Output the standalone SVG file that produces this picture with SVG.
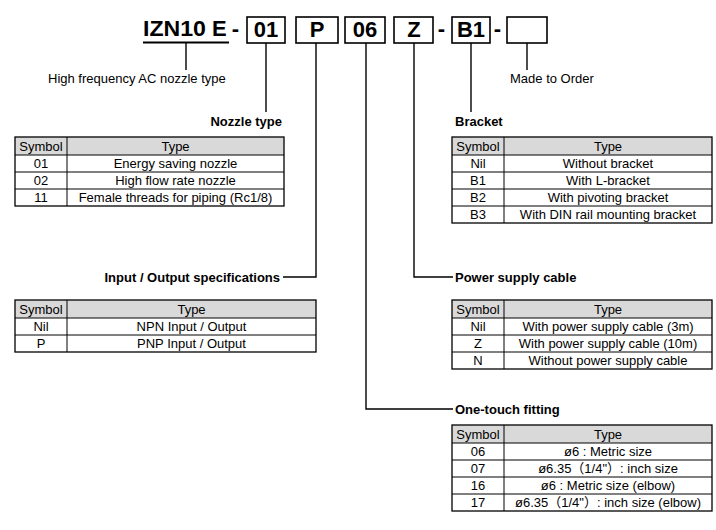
<svg xmlns="http://www.w3.org/2000/svg" width="716" height="530" viewBox="0 0 716 530">
<style>
text{font-family:"Liberation Sans","Noto Sans CJK JP",Arial,sans-serif;fill:#000}
.code{font-size:22px;font-weight:bold}
.box{fill:#fff;stroke:#000;stroke-width:1.6}
.lbl{font-size:13px;font-weight:bold}
.t{font-size:13px;text-anchor:middle}
.n{font-size:13px}
.hd{fill:#d9d9d9}
.grid{fill:none;stroke:#000;stroke-width:1}
.outer{fill:none;stroke:#000;stroke-width:1.3}
.conn{fill:none;stroke:#000;stroke-width:1.4}
</style>
<rect width="716" height="530" fill="#fff"/>

<g id="code">
<text class="code" x="143" y="36" textLength="63" lengthAdjust="spacingAndGlyphs">IZN10</text>
<text class="code" x="212" y="36">E</text>
<line x1="143" y1="42.5" x2="229" y2="42.5" stroke="#000" stroke-width="1.8"/>
<text class="code" x="235.5" y="36" text-anchor="middle">-</text>
<rect class="box" x="247" y="17" width="38" height="26"/>
<text class="code" x="266" y="37" text-anchor="middle">01</text>
<rect class="box" x="296" y="17" width="42" height="26"/>
<text class="code" x="317" y="37" text-anchor="middle">P</text>
<rect class="box" x="345" y="17" width="40" height="26"/>
<text class="code" x="365" y="37" text-anchor="middle">06</text>
<rect class="box" x="394" y="17" width="39" height="26"/>
<text class="code" x="414" y="37" text-anchor="middle">Z</text>
<text class="code" x="441.5" y="36" text-anchor="middle">-</text>
<rect class="box" x="452" y="17" width="38" height="26"/>
<text class="code" x="471" y="37" text-anchor="middle">B1</text>
<text class="code" x="497.5" y="36" text-anchor="middle">-</text>
<rect class="box" x="507" y="17" width="40" height="26"/>
</g>

<g id="connectors">
<line class="conn" x1="186" y1="43" x2="186" y2="70"/>
<line class="conn" x1="527" y1="43" x2="527" y2="70"/>
<line class="conn" x1="266" y1="43" x2="266" y2="112"/>
<line class="conn" x1="471" y1="43" x2="471" y2="112"/>
<polyline class="conn" points="316,43 316,277 283,277"/>
<polyline class="conn" points="414,43 414,277 453,277"/>
<polyline class="conn" points="366,43 366,409 453,409"/>
</g>

<g id="label-ac">
<text class="n" x="48" y="83">High frequency AC nozzle type</text>
</g>
<g id="label-order">
<text class="n" x="510" y="83">Made to Order</text>
</g>

<g id="nozzle-type">
<text class="lbl" x="282" y="126" text-anchor="end">Nozzle type</text>
<rect class="hd" x="15" y="137" width="269" height="18"/>
<rect class="outer" x="15" y="137" width="269" height="69"/>
<path class="grid" d="M15 155H284M15 172H284M15 189H284M67 137V206"/>
<text class="t" x="41" y="150.5">Symbol</text><text class="t" x="175.5" y="150.5">Type</text>
<text class="t" x="41" y="168">01</text><text class="t" x="175.5" y="168">Energy saving nozzle</text>
<text class="t" x="41" y="185">02</text><text class="t" x="175.5" y="185">High flow rate nozzle</text>
<text class="t" x="41" y="202">11</text><text class="t" x="175.5" y="202">Female threads for piping (Rc1/8)</text>
</g>

<g id="bracket">
<text class="lbl" x="455" y="126">Bracket</text>
<rect class="hd" x="452" y="137" width="260" height="18"/>
<rect class="outer" x="452" y="137" width="260" height="86"/>
<path class="grid" d="M452 155H712M452 172H712M452 189H712M452 206H712M504 137V223"/>
<text class="t" x="478" y="150.5">Symbol</text><text class="t" x="608" y="150.5">Type</text>
<text class="t" x="478" y="168">Nil</text><text class="t" x="608" y="168">Without bracket</text>
<text class="t" x="478" y="185">B1</text><text class="t" x="608" y="185">With L-bracket</text>
<text class="t" x="478" y="202">B2</text><text class="t" x="608" y="202">With pivoting bracket</text>
<text class="t" x="478" y="219">B3</text><text class="t" x="608" y="219">With DIN rail mounting bracket</text>
</g>

<g id="io-spec">
<text class="lbl" x="280" y="281.5" text-anchor="end">Input / Output specifications</text>
<rect class="hd" x="15" y="300" width="301" height="18"/>
<rect class="outer" x="15" y="300" width="301" height="52"/>
<path class="grid" d="M15 318H316M15 335H316M67 300V352"/>
<text class="t" x="41" y="313.5">Symbol</text><text class="t" x="191.5" y="313.5">Type</text>
<text class="t" x="41" y="331">Nil</text><text class="t" x="191.5" y="331">NPN Input / Output</text>
<text class="t" x="41" y="348">P</text><text class="t" x="191.5" y="348">PNP Input / Output</text>
</g>

<g id="power-cable">
<text class="lbl" x="455" y="281.5">Power supply cable</text>
<rect class="hd" x="452" y="300" width="260" height="18"/>
<rect class="outer" x="452" y="300" width="260" height="69"/>
<path class="grid" d="M452 318H712M452 335H712M452 352H712M504 300V369"/>
<text class="t" x="478" y="313.5">Symbol</text><text class="t" x="608" y="313.5">Type</text>
<text class="t" x="478" y="331">Nil</text><text class="t" x="608" y="331">With power supply cable (3m)</text>
<text class="t" x="478" y="348">Z</text><text class="t" x="608" y="348">With power supply cable (10m)</text>
<text class="t" x="478" y="365">N</text><text class="t" x="608" y="365">Without power supply cable</text>
</g>

<g id="one-touch">
<text class="lbl" x="455" y="413.5">One-touch fitting</text>
<rect class="hd" x="452" y="425" width="260" height="18"/>
<rect class="outer" x="452" y="425" width="260" height="86"/>
<path class="grid" d="M452 443H712M452 460H712M452 477H712M452 494H712M504 425V511"/>
<text class="t" x="478" y="438.5">Symbol</text><text class="t" x="608" y="438.5">Type</text>
<text class="t" x="478" y="456">06</text><text class="t" x="608" y="456">ø6 : Metric size</text>
<text class="t" x="478" y="473">07</text><text class="t" x="608" y="473">ø6.35（1/4"）: inch size</text>
<text class="t" x="478" y="490">16</text><text class="t" x="608" y="490">ø6 : Metric size (elbow)</text>
<text class="t" x="478" y="507">17</text><text class="t" x="608" y="507">ø6.35（1/4"）: inch size (elbow)</text>
</g>
</svg>
